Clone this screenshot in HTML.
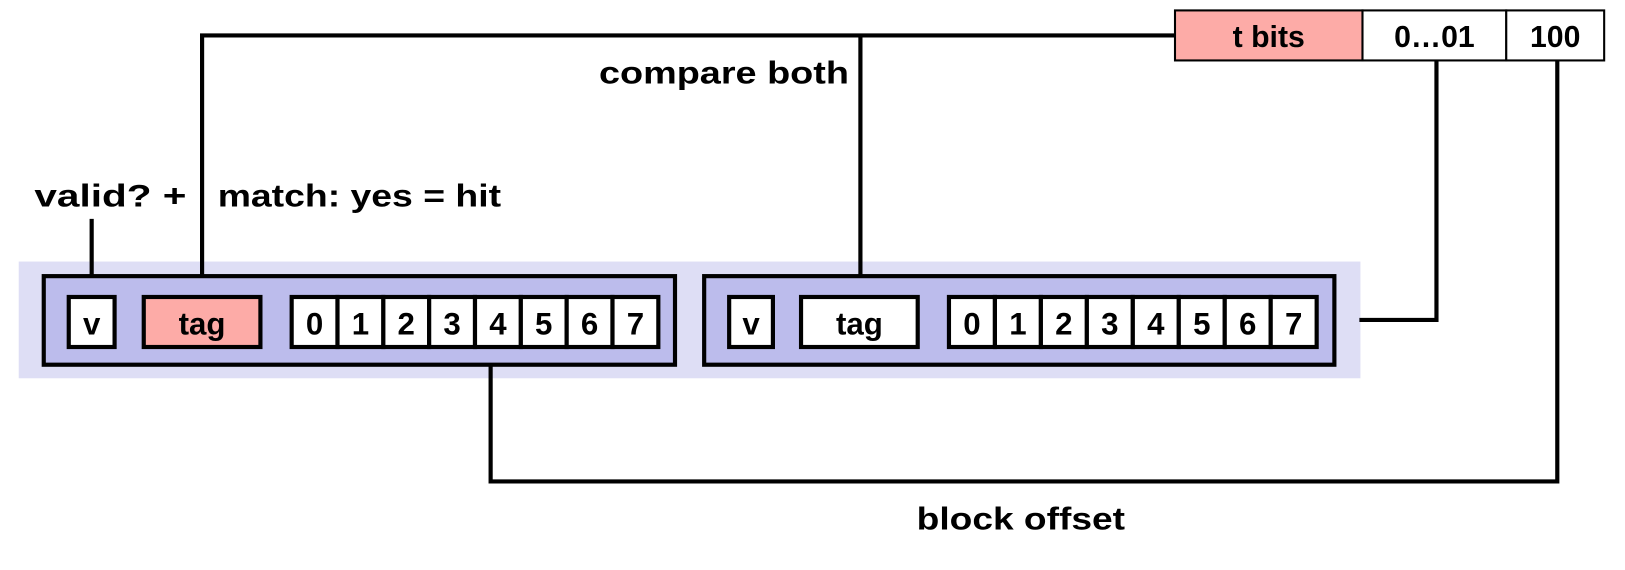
<!DOCTYPE html>
<html><head><meta charset="utf-8"><style>
html,body{margin:0;padding:0;background:#fff;}
svg{display:block;}
text{font-family:"Liberation Sans",sans-serif;font-weight:bold;fill:#000;}
</style></head><body>
<svg width="1625" height="570" viewBox="0 0 1560 547" preserveAspectRatio="none">
<rect x="18" y="251" width="1288" height="112" fill="#dedef5"/>
<g stroke="#000" stroke-width="4" fill="none">
<polyline points="1128,34 194,34 194,285"/>
<line x1="826" y1="34" x2="826" y2="285"/>
<polyline points="1379,58 1379,307 1305,307"/>
<polyline points="1495,58 1495,462 471,462 471,333"/>
<line x1="88" y1="210" x2="88" y2="285"/>
</g>
<g>
<rect x="42" y="265" width="606" height="85" fill="#bcbcec" stroke="#000" stroke-width="4"/>
<rect x="66" y="285" width="44" height="48" fill="#fff" stroke="#000" stroke-width="4"/>
<text x="88" y="321" font-size="30" text-anchor="middle">v</text>
<rect x="138" y="285" width="112" height="48" fill="#fdaba7" stroke="#000" stroke-width="4"/>
<text x="194" y="321" font-size="30" text-anchor="middle">tag</text>
<g id="b0"></g>
</g>
<g>
<rect x="676" y="265" width="605" height="85" fill="#bcbcec" stroke="#000" stroke-width="4"/>
<rect x="700" y="285" width="42" height="48" fill="#fff" stroke="#000" stroke-width="4"/>
<text x="721" y="321" font-size="30" text-anchor="middle">v</text>
<rect x="769" y="285" width="112" height="48" fill="#fff" stroke="#000" stroke-width="4"/>
<text x="825" y="321" font-size="30" text-anchor="middle">tag</text>
<g id="b1"></g>
</g>
<g>
<rect x="1128" y="10" width="180" height="48" fill="#fdaba7" stroke="#000" stroke-width="2"/>
<text x="1218" y="45" font-size="29" text-anchor="middle">t bits</text>
<rect x="1308" y="10" width="138" height="48" fill="#fff" stroke="#000" stroke-width="2"/>
<text x="1377" y="45" font-size="29" text-anchor="middle">0…01</text>
<rect x="1446" y="10" width="94" height="48" fill="#fff" stroke="#000" stroke-width="2"/>
<text x="1493" y="45" font-size="29" text-anchor="middle">100</text>
</g>
<text x="575" y="80" font-size="30" textLength="240" lengthAdjust="spacingAndGlyphs">compare both</text>
<text x="33" y="198" font-size="30" textLength="146" lengthAdjust="spacingAndGlyphs">valid?  +</text>
<text x="209" y="198" font-size="30" textLength="272" lengthAdjust="spacingAndGlyphs">match: yes = hit</text>
<text x="880" y="508" font-size="30" textLength="200" lengthAdjust="spacingAndGlyphs">block offset</text>
</svg>
<script>
const byteLabels=["0","1","2","3","4","5","6","7"];
const ns="http://www.w3.org/2000/svg";
[["b0",280,632],["b1",911,1264]].forEach(([id,x0,x1])=>{
  const g=document.getElementById(id);const w=(x1-x0)/byteLabels.length;
  byteLabels.forEach((l,i)=>{
    const r=document.createElementNS(ns,"rect");
    
    
    r.setAttribute("x",x0+i*w);r.setAttribute("y",285);r.setAttribute("width",w);r.setAttribute("height",48);
    r.setAttribute("fill","#fff");r.setAttribute("stroke","#000");r.setAttribute("stroke-width","4");
    g.appendChild(r);
    const t=document.createElementNS(ns,"text");
    
    
    t.setAttribute("x",x0+i*w+w/2);t.setAttribute("y",321);t.setAttribute("font-size","30");t.setAttribute("text-anchor","middle");
    t.textContent=l;g.appendChild(t);
  });
});
</script>
</body></html>
